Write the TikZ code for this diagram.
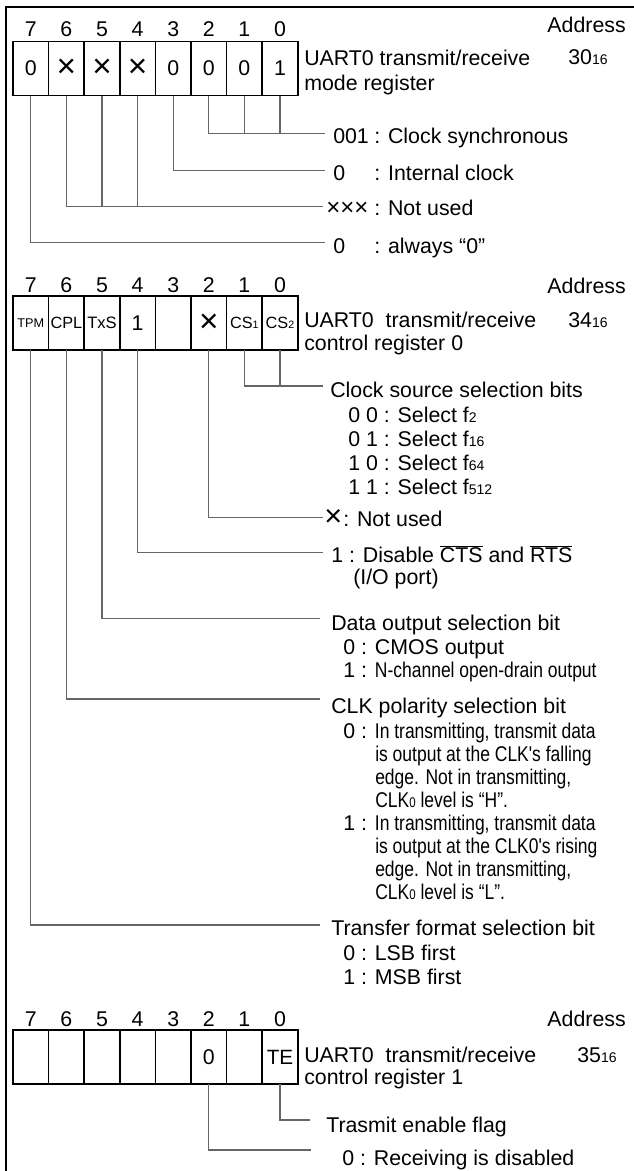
\documentclass[tikz,border=0pt]{standalone}
\usepackage{fontspec}
\setmainfont{Liberation Sans}
\newfontfamily\narrowfont[FakeStretch=0.82]{Liberation Sans}
\newcommand\sbs[1]{{\fontsize{10.5}{10.5}\selectfont #1}}
\newcommand\ovl[1]{\ensuremath{\overline{\hbox{#1}}}}
\begin{document}
\begin{tikzpicture}[x=0.75pt,y=-0.75pt,
  bitbox/.style={draw, line width=1.2pt, minimum width=26.7pt, minimum height=40.5pt, inner sep=0pt, outer sep=0pt, font=\fontsize{16}{16}\selectfont},
  crossbox/.style={bitbox, font=\fontsize{25}{25}\selectfont},
  bitnum/.style={inner sep=0pt, font=\fontsize{16}{16}\selectfont, text height=11.5pt, text depth=0pt},
  txt/.style={anchor=west, inner sep=0pt, font=\fontsize{16}{16}\selectfont, text height=11.5pt, text depth=0pt},
  rtxt/.style={txt, anchor=east},
  lead/.style={draw=black!60, line width=0.9pt},
  frame/.style={line width=1.6pt}]
\useasboundingbox (0,0) rectangle (634,1171);
\draw[frame] (634,7) -- (6,7) -- (6,1171);

% ---------------- register 1 ----------------
\foreach \i/\xx in {7/30.8,6/66.4,5/102.0,4/137.6,3/173.2,2/208.8,1/244.4,0/280.0}{
  \node[bitnum] (r1n\i) at (\xx,28.5) {\i};
}
\node[bitbox] (r1b7) at (30.8,68.5) {0};
\node[crossbox] (r1b6) at (66.4,68.5) {×};
\node[crossbox] (r1b5) at (102.0,68.5) {×};
\node[crossbox] (r1b4) at (137.6,68.5) {×};
\node[bitbox] (r1b3) at (173.2,68.5) {0};
\node[bitbox] (r1b2) at (208.8,68.5) {0};
\node[bitbox] (r1b1) at (244.4,68.5) {0};
\node[bitbox] (r1b0) at (280.0,68.5) {1};
\node[rtxt] (r1addr) at (626,25) {Address};
\node[txt] (r1t1) at (304,58) {UART0 transmit/receive};
\node[txt] (r1t2) at (304,83) {mode register};
\node[txt] (r1a) at (568,57) {30\sbs{16}};

\coordinate (c1a) at (325,133.3);
\coordinate (c1b) at (325,170.7);
\coordinate (c1c) at (323,206.7);
\coordinate (c1d) at (325,242.7);
\draw[lead] (r1b2.south) |- (c1a);
\draw[lead] (r1b1.south) -- (r1b1.south |- c1a);
\draw[lead] (r1b0.south) -- (r1b0.south |- c1a);
\draw[lead] (r1b3.south) |- (c1b);
\draw[lead] (r1b6.south) |- (c1c);
\draw[lead] (r1b5.south) -- (r1b5.south |- c1c);
\draw[lead] (r1b4.south) -- (r1b4.south |- c1c);
\draw[lead] (r1b7.south) |- (c1d);

\node[txt] (l1ap) at (333,136) {001};
\node[txt] (l1a) at (374,136) {: Clock synchronous};
\node[txt] (l1bp) at (333,172.7) {0};
\node[txt] (l1b) at (374,172.7) {: Internal clock};
\node[txt,font=\fontsize{18}{18}\selectfont] (l1cp) at (326,208) {×××};
\node[txt] (l1c) at (374,208) {: Not used};
\node[txt] (l1dp) at (333,245.7) {0};
\node[txt] (l1d) at (374,245.7) {: always “0”};

% ---------------- register 2 ----------------
\foreach \i/\xx in {7/30.8,6/66.4,5/102.0,4/137.6,3/173.2,2/208.8,1/244.4,0/280.0}{
  \node[bitnum] (r2n\i) at (\xx,285) {\i};
}
\node[bitbox,font=\fontsize{9.5}{9.5}\selectfont] (r2b7) at (30.8,323) {TPM};
\node[bitbox,font=\fontsize{12.2}{12.2}\selectfont] (r2b6) at (66.4,323) {CPL};
\node[bitbox,font=\fontsize{12.4}{12.4}\selectfont] (r2b5) at (102.0,323) {TxS};
\node[bitbox] (r2b4) at (137.6,323) {1};
\node[bitbox] (r2b3) at (173.2,323) {};
\node[crossbox] (r2b2) at (208.8,323) {×};
\node[bitbox,font=\fontsize{12.2}{12.2}\selectfont] (r2b1) at (244.4,323) {CS{\fontsize{8}{8}\selectfont 1}};
\node[bitbox,font=\fontsize{12.2}{12.2}\selectfont] (r2b0) at (280.0,323) {CS{\fontsize{8}{8}\selectfont 2}};
\node[rtxt] (r2addr) at (626,286) {Address};
\node[txt] (r2t1) at (304,320) {UART0\ \ transmit/receive};
\node[txt] (r2t2) at (304,343) {control register 0};
\node[txt] (r2a) at (568,320) {34\sbs{16}};

\coordinate (c2a) at (323,386);
\coordinate (c2b) at (323,517.5);
\coordinate (c2c) at (323,552.3);
\coordinate (c2d) at (320,618.3);
\coordinate (c2e) at (320,699);
\coordinate (c2f) at (320,925);
\draw[lead] (r2b1.south) |- (c2a);
\draw[lead] (r2b0.south) -- (r2b0.south |- c2a);
\draw[lead] (r2b2.south) |- (c2b);
\draw[lead] (r2b4.south) |- (c2c);
\draw[lead] (r2b5.south) |- (c2d);
\draw[lead] (r2b6.south) |- (c2e);
\draw[lead] (r2b7.south) |- (c2f);

\node[txt] (l2a) at (330,390) {Clock source selection bits};
\node[txt] (l2a1) at (348,415) {0 0 : Select f\sbs{2}};
\node[txt] (l2a2) at (348,438.5) {0 1 : Select f\sbs{16}};
\node[txt] (l2a3) at (348,462.5) {1 0 : Select f\sbs{64}};
\node[txt] (l2a4) at (348,487) {1 1 : Select f\sbs{512}};
\node[txt,font=\fontsize{23}{23}\selectfont] (l2bp) at (324,518.5) {×};
\node[txt] (l2b) at (343,518.5) {: Not used};
\node[txt] (l2c) at (331,555) {1 : Disable \ovl{CTS} and \ovl{RTS}};
\node[txt] (l2c1) at (353,577) {(I/O port)};
\node[txt] (l2d) at (331,623) {Data output selection bit};
\node[txt] (l2d1) at (343,646.7) {0 : CMOS output};
\node[txt] (l2d2) at (343,670) {1 : {\narrowfont N-channel open-drain output}};
\node[txt] (l2e) at (331,706) {CLK polarity selection bit};
\node[txt] (l2e1) at (343,730.5) {0 : {\narrowfont In transmitting, transmit data}};
\node[txt] (l2e2) at (375,753.5) {\narrowfont is output at the CLK's falling};
\node[txt] (l2e3) at (375,776.5) {\narrowfont edge. Not in transmitting,};
\node[txt] (l2e4) at (375,799.5) {\narrowfont CLK\sbs{0} level is “H”.};
\node[txt] (l2e5) at (343,822.5) {1 : {\narrowfont In transmitting, transmit data}};
\node[txt] (l2e6) at (375,845.5) {\narrowfont is output at the CLK0's rising};
\node[txt] (l2e7) at (375,868.5) {\narrowfont edge. Not in transmitting,};
\node[txt] (l2e8) at (375,891.5) {\narrowfont CLK\sbs{0} level is “L”.};
\node[txt] (l2f) at (331,928) {Transfer format selection bit};
\node[txt] (l2f1) at (343,953) {0 : LSB first};
\node[txt] (l2f2) at (343,977) {1 : MSB first};

% ---------------- register 3 ----------------
\foreach \i/\xx in {7/30.8,6/66.4,5/102.0,4/137.6,3/173.2,2/208.8,1/244.4,0/280.0}{
  \node[bitnum] (r3n\i) at (\xx,1019) {\i};
}
\node[bitbox] (r3b7) at (30.8,1057) {};
\node[bitbox] (r3b6) at (66.4,1057) {};
\node[bitbox] (r3b5) at (102.0,1057) {};
\node[bitbox] (r3b4) at (137.6,1057) {};
\node[bitbox] (r3b3) at (173.2,1057) {};
\node[bitbox] (r3b2) at (208.8,1057) {0};
\node[bitbox] (r3b1) at (244.4,1057) {};
\node[bitbox,font=\fontsize{15.5}{15.5}\selectfont] (r3b0) at (280.0,1057) {TE};
\node[rtxt] (r3addr) at (626,1019) {Address};
\node[txt] (r3t1) at (304,1055) {UART0\ \ transmit/receive};
\node[txt] (r3t2) at (304,1077) {control register 1};
\node[txt] (r3a) at (577,1055) {35\sbs{16}};

\coordinate (c3a) at (310,1120);
\coordinate (c3b) at (311,1150);
\draw[lead] (r3b0.south) |- (c3a);
\draw[lead] (r3b2.south) |- (c3b);
\node[txt] (l3a) at (326,1125) {Trasmit enable flag};
\node[txt] (l3b) at (342,1158) {0 : Receiving is disabled};
\end{tikzpicture}
\end{document}
